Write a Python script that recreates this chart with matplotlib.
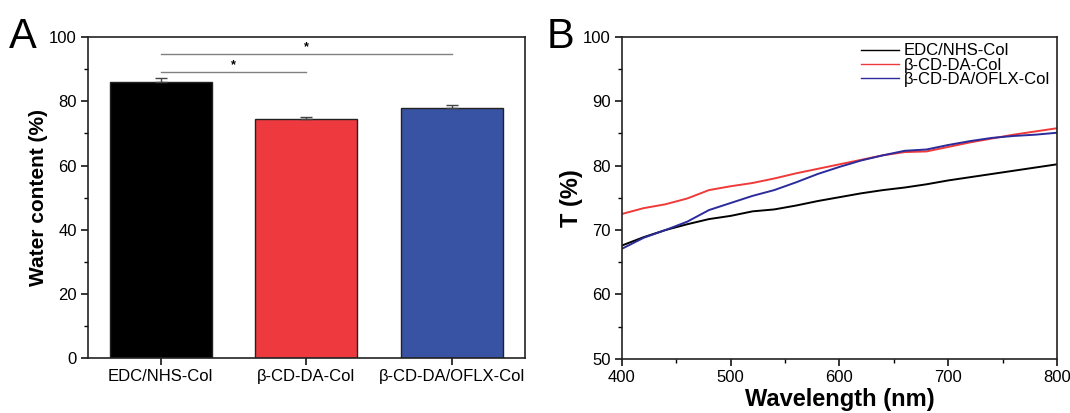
import numpy as np
import matplotlib
matplotlib.use("Agg")
import matplotlib.pyplot as plt
from matplotlib.ticker import MultipleLocator

plt.rcParams['font.family'] = ['Liberation Sans', 'DejaVu Sans']

# panel A data
groups = ['EDC/NHS-Col', 'β-CD-DA-Col', 'β-CD-DA/OFLX-Col']
water = [86.0, 74.5, 78.0]
water_err = [1.2, 0.6, 1.0]
bar_colors = ['#000000', '#ee3a3f', '#3953a4']

# panel B data (transmittance)
wl = [400, 420, 440, 460, 480, 500, 520, 540, 560, 580, 600, 620, 640,
      660, 680, 700, 720, 740, 760, 780, 800]
t_edc = [67.6, 68.9, 70.0, 70.9, 71.7, 72.2, 72.9, 73.2, 73.8, 74.5, 75.1,
         75.7, 76.2, 76.6, 77.1, 77.7, 78.2, 78.7, 79.2, 79.7, 80.2]
t_cd = [72.5, 73.4, 74.0, 74.9, 76.2, 76.8, 77.3, 78.0, 78.8, 79.5, 80.2,
        80.9, 81.6, 82.1, 82.2, 82.9, 83.6, 84.2, 84.8, 85.3, 85.8]
t_oflx = [67.1, 68.8, 70.0, 71.3, 73.1, 74.2, 75.3, 76.2, 77.4, 78.7, 79.8,
          80.8, 81.6, 82.3, 82.5, 83.2, 83.8, 84.3, 84.6, 84.8, 85.1]
line_colors = ['#000000', '#f03a3a', '#2b2b9c']

fig = plt.figure(figsize=(10.7, 4.13), dpi=100)
axA = fig.add_axes([0.0822, 0.133, 0.4084, 0.777])
axB = fig.add_axes([0.5813, 0.131, 0.4065, 0.780])

# ---- A ----
x = np.arange(len(groups))
axA.bar(x, water, width=0.70, color=bar_colors, edgecolor='#222222', linewidth=1, zorder=2)
axA.errorbar(x, water, yerr=[np.zeros(3), water_err], fmt='none', ecolor='#444444',
             elinewidth=1, capsize=4, capthick=1, zorder=3)
axA.set_xlim(-0.5, 2.5)
axA.set_ylim(0, 100)
axA.set_xticks(x)
axA.set_xticklabels(groups, fontsize=12)
axA.yaxis.set_major_locator(MultipleLocator(20))
axA.yaxis.set_minor_locator(MultipleLocator(10))
axA.set_ylabel('Water content (%)', fontsize=15, fontweight='bold', labelpad=1)

# significance bars
axA.plot([0, 2], [94.6, 94.6], color='#808080', lw=1, zorder=1)
axA.plot([0, 1], [89.1, 89.1], color='#808080', lw=1, zorder=1)
axA.text(1.0, 95.0, '*', ha='center', va='bottom', fontsize=9, fontweight='bold')
axA.text(0.5, 89.5, '*', ha='center', va='bottom', fontsize=9, fontweight='bold')

# ---- B ----
labels = ['EDC/NHS-Col', 'β-CD-DA-Col', 'β-CD-DA/OFLX-Col']
for series, lab, col in zip([t_edc, t_cd, t_oflx], labels, line_colors):
    axB.plot(wl, series, color=col, lw=1.4, label=lab)
axB.set_xlim(400, 800)
axB.set_ylim(50, 100)
axB.xaxis.set_major_locator(MultipleLocator(100))
axB.xaxis.set_minor_locator(MultipleLocator(50))
axB.yaxis.set_major_locator(MultipleLocator(10))
axB.yaxis.set_minor_locator(MultipleLocator(5))
axB.set_xlabel('Wavelength (nm)', fontsize=17, fontweight='bold', labelpad=2)
axB.set_ylabel('T (%)', fontsize=17, fontweight='bold', labelpad=0)
leg = axB.legend(loc='upper right', frameon=False, fontsize=12, handlelength=2.3,
                 labelspacing=-0.04, handletextpad=0.3, borderaxespad=0.0,
                 bbox_to_anchor=(1.0, 1.0))
for h in leg.get_lines():
    h.set_linewidth(1.0)

for ax in (axA, axB):
    for s in ax.spines.values():
        s.set_linewidth(1.2)
        s.set_color('#222222')
    ax.tick_params(which='major', direction='out', length=5, width=1.1, labelsize=12, pad=3)
    ax.tick_params(which='minor', direction='out', length=3, width=1.0)
    ax.tick_params(axis='x', which='minor', top=False)

axA.tick_params(axis='x', which='minor', bottom=False)

fig.text(0.008, 0.91, 'A', fontsize=30, va='center', ha='left')
fig.text(0.511, 0.91, 'B', fontsize=30, va='center', ha='left')

fig.savefig('out.png', dpi=100)
